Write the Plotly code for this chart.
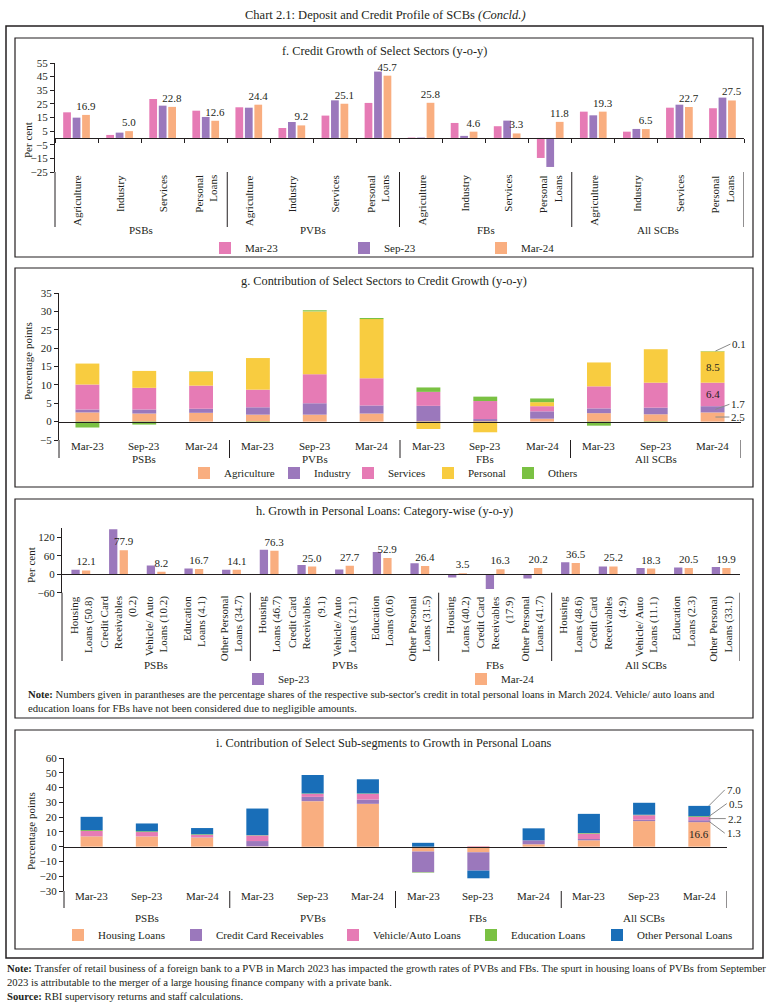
import plotly.graph_objects as go

# ---------------- data ----------------
groups = ["PSBs", "PVBs", "FBs", "All SCBs"]

# f. Credit growth of select sectors (per cent)
f_sectors = ["Agriculture", "Industry", "Services", "Personal<br>Loans"]
f_mar23 = [18.8, 2.2, 28.6, 20.0, 22.5, 7.3, 16.4, 25.7, 0.3, 11.0, 8.6, -14.7, 19.3, 4.6, 22.2, 21.8]
f_sep23 = [14.9, 3.9, 23.7, 15.4, 22.2, 11.7, 27.6, 48.7, 0.3, 1.5, 12.7, -21.3, 16.6, 6.6, 24.4, 29.6]
f_mar24 = [16.9, 5.0, 22.8, 12.6, 24.4, 9.2, 25.1, 45.7, 25.8, 4.6, 3.3, 11.8, 19.3, 6.5, 22.7, 27.5]

# g. Contribution of select sectors to credit growth (percentage points)
periods = ["Mar-23", "Sep-23", "Mar-24"]
g_agriculture = [2.5, 2.2, 2.4, 1.9, 1.9, 2.2, 0.0, 0.0, 0.8, 2.3, 2.0, 2.5]
g_industry = [0.8, 1.1, 1.1, 2.0, 3.1, 2.2, 4.3, 0.7, 2.0, 1.3, 1.8, 1.7]
g_services = [6.8, 5.9, 6.3, 4.8, 7.9, 7.4, 3.8, 4.9, 1.4, 6.0, 6.8, 6.4]
g_personal = [5.7, 4.6, 3.8, 8.6, 17.1, 16.1, -2.0, -2.9, 1.1, 6.5, 9.1, 8.5]
g_others = [-1.6, -0.8, 0.1, -0.3, 0.3, 0.3, 1.2, 1.2, 1.0, -1.1, -0.3, 0.1]

# h. Growth in personal loans: category-wise (per cent)
h_group_sizes = [5, 5, 3, 5]
h_labels = [
    "Housing<br>Loans (50.8)", "Credit Card<br>Receivables<br>(0.2)", "Vehicle/ Auto<br>Loans (10.2)",
    "Education<br>Loans (4.1)", "Other Personal<br>Loans (34.7)",
    "Housing<br>Loans (46.7)", "Credit Card<br>Receivables<br>(9.1)", "Vehicle/ Auto<br>Loans (12.1)",
    "Education<br>Loans (0.6)", "Other Personal<br>Loans (31.5)",
    "Housing<br>Loans (40.2)", "Credit Card<br>Receivables<br>(17.9)", "Other Personal<br>Loans (41.7)",
    "Housing<br>Loans (48.6)", "Credit Card<br>Receivables<br>(4.9)", "Vehicle/ Auto<br>Loans (11.1)",
    "Education<br>Loans (2.3)", "Other Personal<br>Loans (33.1)",
]
h_sep23 = [14.1, 146.0, 28.1, 18.4, 14.1, 79.0, 30.3, 15.1, 72.4, 35.7, -10.8, -47.6, -14.1, 38.9, 24.9, 20.5, 21.6, 23.8]
h_mar24 = [12.1, 77.9, 8.2, 16.7, 14.1, 76.3, 25.0, 27.7, 52.9, 26.4, 3.5, 16.3, 20.2, 36.5, 25.2, 18.3, 20.5, 19.9]

# i. Contribution of select sub-segments to growth in personal loans (percentage points)
i_housing = [7.0, 6.9, 6.2, 0.2, 30.8, 29.0, -3.3, -3.8, 1.6, 4.3, 17.3, 16.6]
i_credit_card = [0.1, 0.1, 0.2, 3.6, 2.9, 2.9, -14.0, -12.4, 2.7, 0.9, 0.9, 1.3]
i_vehicle = [3.5, 2.9, 1.6, 3.8, 2.0, 3.8, 0.0, 0.3, 0.0, 3.6, 3.1, 2.2]
i_education = [0.6, 0.5, 0.4, 0.2, 0.3, 0.3, -0.3, 0.0, 0.0, 0.4, 0.3, 0.5]
i_other = [9.0, 5.3, 4.2, 18.0, 12.5, 9.6, 2.6, -5.2, 8.1, 13.0, 8.1, 7.0]

# ---------------- style ----------------
W, H = 771, 1005
FONT = "Liberation Serif"
INK = "#231F20"
C_PINK = "#E67BB5"
C_PURPLE = "#9B78BC"
C_PEACH = "#F9AE80"
C_YELLOW = "#F8CC40"
C_GREEN = "#7AC143"
C_BLUE = "#196EB8"
C_LEAD = "#8A8A8A"


def xp(v):
    return v / W


def yp(v):
    return 1 - v / H


def fnt(size=11, color=INK):
    return dict(family=FONT, size=size, color=color)


fig = go.Figure()
shapes = []
anns = []
legends = {}


def new_legend(marker_x, y_mid):
    name = "legend" if not legends else f"legend{len(legends) + 1}"
    legends[name] = dict(orientation="h", x=xp(marker_x - 19), xanchor="left", y=yp(y_mid),
                         yanchor="middle", font=fnt(11), bgcolor="rgba(0,0,0,0)",
                         itemclick=False, itemdoubleclick=False)
    return name


def txt(x, y, s, xref="paper", yref="paper", size=11, **kw):
    d = dict(x=x, y=y, text=s, xref=xref, yref=yref, showarrow=False, font=fnt(size),
             xanchor="center", yanchor="middle")
    d.update(kw)
    anns.append(d)


def vline(x, y0, y1, xref="paper", width=1):
    shapes.append(dict(type="line", xref=xref, yref="paper", x0=x, x1=x, y0=y0, y1=y1,
                       line=dict(color=INK, width=width)))


def rect(x0, y0, x1, y1, width=1.2):
    shapes.append(dict(type="rect", xref="paper", yref="paper", x0=xp(x0), x1=xp(x1),
                       y0=yp(y1), y1=yp(y0), line=dict(color=INK, width=width), fillcolor="rgba(0,0,0,0)"))


def axes(n, plot, yrange, ytickvals, ticks_on_zero):
    left, top, right, bot = plot
    lo, hi = yrange
    zero_pos = yp(bot) + (0 - lo) / (hi - lo) * (yp(top) - yp(bot))
    xa = dict(domain=[xp(left), xp(right)], range=[-0.5, n - 0.5], anchor="free", position=zero_pos,
              showline=True, linecolor=INK, linewidth=1, showgrid=False, zeroline=False,
              showticklabels=False, fixedrange=True, automargin=False)
    if ticks_on_zero:
        xa.update(ticks="outside", ticklen=4, tickcolor=INK, tickwidth=1,
                  tickmode="array", tickvals=[k - 0.5 for k in range(n + 1)])
    else:
        xa.update(ticks="")
    ya = dict(domain=[yp(bot), yp(top)], range=[lo, hi], tickmode="array", tickvals=ytickvals,
              ticks="outside", ticklen=4, tickcolor=INK, tickwidth=1, showline=True, linecolor=INK,
              linewidth=1, showgrid=False, zeroline=False, tickfont=fnt(11), fixedrange=True,
              automargin=False)
    return xa, ya


# ---------------- frames & titles ----------------
rect(6, 26, 763, 958, width=1.5)
rect(15, 38, 753, 257)
rect(15, 268, 753, 487)
rect(15, 499, 753, 718)
rect(15, 730, 753, 949)

txt(xp(385), yp(15), "Chart 2.1: Deposit and Credit Profile of SCBs <i>(Concld.)</i>", size=12.5)
txt(xp(384), yp(51), "f. Credit Growth of Select Sectors (y-o-y)", size=12.3)
txt(xp(384), yp(281), "g. Contribution of Select Sectors to Credit Growth (y-o-y)", size=12.3)
txt(xp(384), yp(511), "h. Growth in Personal Loans: Category-wise (y-o-y)", size=12.3)
txt(xp(384), yp(743), "i. Contribution of Select Sub-segments to Growth in Personal Loans", size=12.3)

# ================= panel f =================
F_PLOT = (55, 63, 744, 172)
F_LABEL_BOT = 227
nf = len(f_mar24)
xa, ya = axes(nf, F_PLOT, (-25, 55), list(range(-25, 56, 10)), True)
ya["anchor"] = "x"
fig.update_layout(xaxis=xa, yaxis=ya)
fpos = list(range(nf))
for vals, name, col, off, mx in [(f_mar23, "Mar-23", C_PINK, -0.22, 224), (f_sep23, "Sep-23", C_PURPLE, 0.0, 363),
                                 (f_mar24, "Mar-24", C_PEACH, 0.22, 500)]:
    tr = dict(x=[p + off for p in fpos], y=vals, name=name, marker=dict(color=col, line=dict(width=0)),
              width=0.18, xaxis="x", yaxis="y", legend=new_legend(mx, 248), hoverinfo="skip")
    if name == "Mar-24":
        tr.update(text=[f"{v:.1f}" for v in vals], textposition="outside", textfont=fnt(11),
                  cliponaxis=False, constraintext="none")
    fig.add_trace(go.Bar(**tr))
for k in range(nf):
    txt(k, yp(F_PLOT[3] + 1), f_sectors[k % len(f_sectors)], xref="x", textangle=-90,
        yanchor="top", align="right")
per_f = len(f_sectors)
vline(xp(F_PLOT[0]), yp(F_PLOT[3]), yp(F_LABEL_BOT))
for gi, gname in enumerate(groups):
    vline((gi + 1) * per_f - 0.5, yp(F_PLOT[3]), yp(F_LABEL_BOT), xref="x")
    txt(gi * per_f + (per_f - 1) / 2, yp(230), gname, xref="x")
txt(xp(28), yp(140), "Per cent", textangle=-90)

# ================= panel g =================
G_PLOT = (59, 293, 741, 440)
G_LABEL_BOT = 458
ng = len(g_agriculture)
xa, ya = axes(ng, G_PLOT, (-5, 35), list(range(-5, 36, 5)), False)
ya["anchor"] = "x2"
fig.update_layout(xaxis2=xa, yaxis2=ya)
for vals, name, col, mx in [(g_agriculture, "Agriculture", C_PEACH, 203), (g_industry, "Industry", C_PURPLE, 293),
                            (g_services, "Services", C_PINK, 367), (g_personal, "Personal", C_YELLOW, 447),
                            (g_others, "Others", C_GREEN, 527)]:
    fig.add_trace(go.Bar(x=list(range(ng)), y=vals, name=name, marker=dict(color=col, line=dict(width=0)),
                         width=0.42, xaxis="x2", yaxis="y2", legend=new_legend(mx, 473), hoverinfo="skip"))
for k in range(ng):
    txt(k, yp(446), periods[k % 3], xref="x2")
vline(xp(G_PLOT[0]), yp(G_PLOT[3]), yp(G_LABEL_BOT))
for gi, gname in enumerate(groups):
    vline((gi + 1) * 3 - 0.5, yp(G_PLOT[3]), yp(G_LABEL_BOT), xref="x2")
    txt(gi * 3 + 1, yp(459), gname, xref="x2")
txt(xp(28), yp(361), "Percentage points", textangle=-90)

# data labels for the last bar
j = ng - 1
a, b, c, d, e = g_agriculture[j], g_industry[j], g_services[j], g_personal[j], g_others[j]
txt(j, a + b + c + d / 2, f"{d:.1f}", xref="x2", yref="y2")
txt(j, a + b + c / 2, f"{c:.1f}", xref="x2", yref="y2")
for val, ytip, ax, ay in [(e, a + b + c + d + e, 15, -7), (b, a + b / 2, 14, -5), (a, a / 2, 14, 0)]:
    anns.append(dict(x=j + 0.05, y=ytip, xref="x2", yref="y2", text=f"{val:.1f}", showarrow=True,
                     arrowhead=0, arrowwidth=1, arrowcolor=C_LEAD, ax=ax, ay=ay, xanchor="left",
                     yanchor="middle", font=fnt(11)))

# ================= panel h =================
H_PLOT = (62, 528, 740, 592.7)
H_LABEL_BOT = 661
nh = len(h_mar24)
xa, ya = axes(nh, H_PLOT, (-60, 150), [-60, 0, 60, 120], False)
ya["anchor"] = "x3"
fig.update_layout(xaxis3=xa, yaxis3=ya)
hpos = list(range(nh))
for vals, name, col, off, mx in [(h_sep23, "Sep-23", C_PURPLE, -0.14, 257), (h_mar24, "Mar-24", C_PEACH, 0.14, 480)]:
    tr = dict(x=[p + off for p in hpos], y=vals, name=name, marker=dict(color=col, line=dict(width=0)),
              width=0.22, xaxis="x3", yaxis="y3", legend=new_legend(mx, 679), hoverinfo="skip")
    if name == "Mar-24":
        tr.update(text=[f"{v:.1f}" for v in vals], textposition="outside", textfont=fnt(11),
                  cliponaxis=False, constraintext="none")
    fig.add_trace(go.Bar(**tr))
for k in range(nh):
    txt(k, yp(H_PLOT[3] + 1), h_labels[k], xref="x3", textangle=-90, yanchor="top", align="right")
vline(xp(H_PLOT[0]), yp(H_PLOT[3]), yp(H_LABEL_BOT))
start = 0
for gi, gname in enumerate(groups):
    size = h_group_sizes[gi]
    vline(start + size - 0.5, yp(H_PLOT[3]), yp(H_LABEL_BOT), xref="x3")
    txt(start + (size - 1) / 2, yp(665), gname, xref="x3")
    start += size
txt(xp(31), yp(565), "Per cent", textangle=-90)
txt(xp(26), yp(701),
    "<b>Note:</b> Numbers given in parantheses are the percentage shares of the respective sub-sector's credit "
    "in total personal loans in March 2024. Vehicle/ auto loans and<br>education loans for FBs have not been "
    "considered due to negligible amounts.", size=10.7, xanchor="left", align="left")

# ================= panel i =================
I_PLOT = (64, 758, 727, 891)
I_LABEL_BOT = 908
ni = len(i_housing)
xa, ya = axes(ni, I_PLOT, (-30, 60), list(range(-30, 61, 10)), False)
ya["anchor"] = "x4"
fig.update_layout(xaxis4=xa, yaxis4=ya)
for vals, name, col, mx in [(i_housing, "Housing Loans", C_PEACH, 77),
                            (i_credit_card, "Credit Card Receivables", C_PURPLE, 195),
                            (i_vehicle, "Vehicle/Auto Loans", C_PINK, 352),
                            (i_education, "Education Loans", C_GREEN, 490),
                            (i_other, "Other Personal Loans", C_BLUE, 616)]:
    fig.add_trace(go.Bar(x=list(range(ni)), y=vals, name=name, marker=dict(color=col, line=dict(width=0)),
                         width=0.40, xaxis="x4", yaxis="y4", legend=new_legend(mx, 935), hoverinfo="skip"))
for k in range(ni):
    txt(k, yp(896), periods[k % 3], xref="x4")
vline(xp(I_PLOT[0]), yp(I_PLOT[3]), yp(I_LABEL_BOT))
for gi, gname in enumerate(groups):
    vline((gi + 1) * 3 - 0.5, yp(I_PLOT[3]), yp(I_LABEL_BOT), xref="x4")
    txt(gi * 3 + 1, yp(918), gname, xref="x4")
txt(xp(31), yp(831), "Percentage points", textangle=-90)

j = ni - 1
hh, cc, vv, ee, oo = i_housing[j], i_credit_card[j], i_vehicle[j], i_education[j], i_other[j]
txt(j, hh / 2, f"{hh:.1f}", xref="x4", yref="y4")
for val, ytip, ax, ay in [(oo, hh + cc + vv + ee + oo, 16, -16), (ee, hh + cc + vv + ee / 2, 18, -13),
                          (vv, hh + cc + vv / 2, 17, 0), (cc, hh + cc / 2, 16, 12)]:
    anns.append(dict(x=j + 0.17, y=ytip, xref="x4", yref="y4", text=f"{val:.1f}", showarrow=True,
                     arrowhead=0, arrowwidth=1, arrowcolor=C_LEAD, ax=ax, ay=ay, xanchor="left",
                     yanchor="middle", font=fnt(11)))

# ---------------- bottom notes ----------------
txt(xp(5), yp(974.5),
    "<b>Note:</b> Transfer of retail business of a foreign bank to a PVB in March 2023 has impacted the growth "
    "rates of PVBs and FBs. The spurt in housing loans of PVBs from September<br>2023 is attributable to the "
    "merger of a large housing finance company with a private bank.", size=10.7,
    xanchor="left", align="left")
txt(xp(5), yp(995.5), "<b>Source:</b> RBI supervisory returns and staff calculations.", size=10.7,
    xanchor="left", align="left")

fig.update_layout(
    width=W, height=H, margin=dict(l=0, r=0, t=0, b=0, pad=0),
    paper_bgcolor="white", plot_bgcolor="rgba(0,0,0,0)",
    barmode="relative", showlegend=True,
    font=fnt(11),
    shapes=shapes, annotations=anns,
    **legends,
)

fig.write_html("out.html", config={"displayModeBar": False, "staticPlot": True},
               post_script="document.body.style.margin='0';document.body.style.padding='0';")
